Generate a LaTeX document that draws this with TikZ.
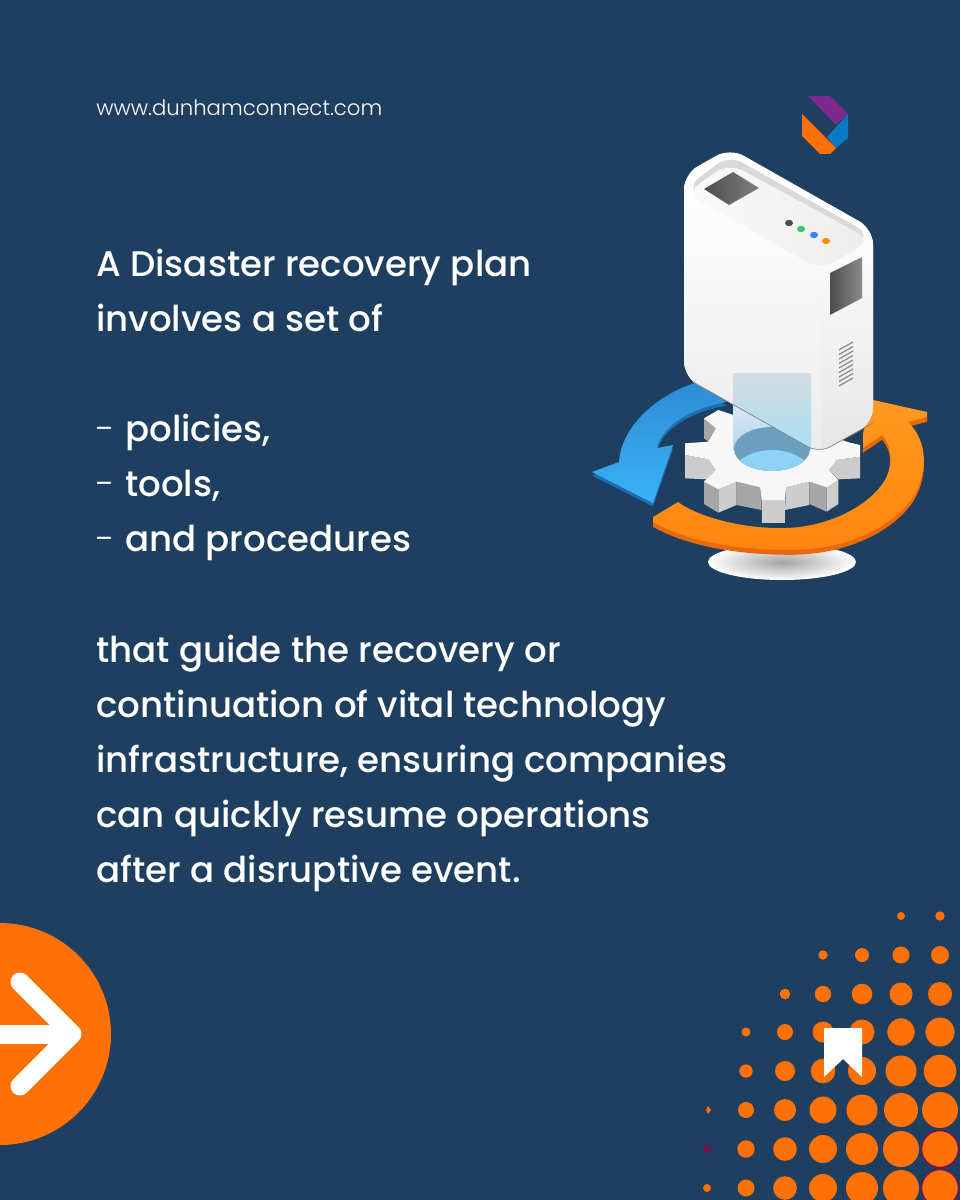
\documentclass[tikz,border=0pt]{standalone}
\usepackage{fontspec}
\setmainfont{Poppins}
\newfontfamily\urlfont{Poppins Light}
\newfontfamily\leadfont{Poppins Medium}
\definecolor{pagebg}{HTML}{1E3F60}
\definecolor{dotorange}{HTML}{FF7005}
\definecolor{dotrim}{HTML}{7A0F4E}
\definecolor{logopurple}{HTML}{7D2A8C}
\definecolor{logoblue}{HTML}{0B79C4}
\definecolor{gearlight}{HTML}{CDCDCD}
\definecolor{geardark}{HTML}{A6A6A6}
\definecolor{bluetop}{HTML}{2C8DD6}
\definecolor{bluelow}{HTML}{3BB2F6}
\definecolor{blueside}{HTML}{1F6FB0}
\definecolor{orangetop}{HTML}{FF9A1E}
\definecolor{orangelow}{HTML}{FF8412}
\definecolor{orangeside}{HTML}{E8690C}
\definecolor{holedark}{HTML}{6A9FBF}
\definecolor{holelight}{HTML}{8FD2F7}
\definecolor{beamtop}{HTML}{D9E8F2}
\definecolor{beamlow}{HTML}{B4D6EC}
\tikzset{
	bodyline/.style={anchor=base west, inner sep=0pt, text=white, font=\leadfont\fontsize{25.3pt}{30pt}\selectfont},
	urlline/.style={anchor=base west, inner sep=0pt, text=white, font=\urlfont\fontsize{15.1pt}{18pt}\selectfont},
}
\newcommand{\dashitem}[1]{\makebox[20.6pt][l]{\urlfont-}#1}
\newcommand{\bluepath}{(727,402) -- (695,383) .. controls (665,392) and (622,421) .. (619,462) -- (592,472) -- (653,503) -- (673,445) -- (657,448) .. controls (662,426) and (690,408) .. (727,402) -- cycle}
\newcommand{\orangepath}{(653,517) -- (678,502) .. controls (700,518) and (745,529) .. (785,528) .. controls (830,527) and (870,505) .. (885,480) .. controls (893,465) and (892,445) .. (882,435) -- (863,448) -- (863,433) -- (873,400) -- (927,412) -- (927,417) -- (908,422) .. controls (927,440) and (930,472) .. (911,500) .. controls (886,532) and (840,550) .. (790,550) .. controls (740,550) and (688,542) .. (653,522) -- cycle}
\newcommand{\serverpath}{(684,377) -- (684,174) -- (730,148) -- (873,229) -- (873,423) -- (819,453) -- cycle}
\begin{document}
\begin{tikzpicture}[x=0.025cm, y=-0.025cm]
	\path[use as bounding box, fill=pagebg] (0,0) rectangle (960,1200);
	% texts
	\node[urlline] (url) at (96,115.5) {www.dunhamconnect.com};
	\node[bodyline] (intro1) at (96,276.5) {A Disaster recovery plan};
	\node[bodyline] (intro2) at (96,331.5) {involves a set of};
	\node[bodyline] (item1) at (96,441.5) {\dashitem{policies,}};
	\node[bodyline] (item2) at (96,496.5) {\dashitem{tools,}};
	\node[bodyline] (item3) at (96,551.5) {\dashitem{and procedures}};
	\node[bodyline] (rest1) at (96,662.5) {that guide the recovery or};
	\node[bodyline] (rest2) at (96,717.5) {continuation of vital technology};
	\node[bodyline] (rest3) at (96,772.5) {infrastructure, ensuring companies};
	\node[bodyline] (rest4) at (96,827.5) {can quickly resume operations};
	\node[bodyline] (rest5) at (96,882.5) {after a disruptive event.};
	% logo
	\fill[logopurple] (808,96) -- (830,96) -- (848,114) -- (836,125) -- cycle;
	\fill[logoblue] (848,114) -- (848,138) -- (836,148) -- (827,137) -- cycle;
	\fill[dotorange] (802,114) -- (836,148) -- (830,154) -- (820,154) -- (802,136) -- cycle;
	% pedestal
	\shade[inner color=black!36, outer color=white] (782,562) ellipse (74 and 18);
	% blue arrow
	\fill[blueside, yshift=-0.09cm] \bluepath;
	\shade[top color=bluetop, bottom color=bluelow] \bluepath;
	% orange arrow
	\fill[orangeside, yshift=-0.12cm] \orangepath;
	\shade[top color=orangetop, bottom color=orangelow] \orangepath;
	% gear, drawn in the units of the crop
	\begin{scope}[shift={(680,400)}, scale=1/3]
		\fill[gearlight] (15,165) -- (85,178) -- (108,210) -- (80,238) -- (15,235) -- cycle;
		\fill[geardark] (72,55) -- (108,85) -- (85,125) -- (72,115) -- cycle;
		\fill[geardark] (72,245) -- (115,268) -- (115,338) -- (72,312) -- cycle;
		\fill[gearlight] (115,268) -- (170,245) -- (170,315) -- (115,338) -- cycle;
		\fill[geardark] (170,245) -- (240,262) -- (245,330) -- (170,315) -- cycle;
		\fill[geardark] (240,262) -- (245,300) -- (245,370) -- (245,330) -- cycle;
		\fill[gearlight] (245,300) -- (315,300) -- (315,370) -- (245,370) -- cycle;
		\fill[gearlight] (318,262) -- (388,245) -- (388,315) -- (315,330) -- cycle;
		\fill[geardark] (388,245) -- (440,262) -- (440,335) -- (388,312) -- cycle;
		\fill[gearlight] (440,262) -- (475,240) -- (475,312) -- (440,335) -- cycle;
		\fill[gearlight] (447,210) -- (470,180) -- (540,170) -- (540,235) -- (475,238) -- cycle;
		\fill[white!97!black] (72,55) -- (115,30) -- (160,45) -- (300,60) -- (510,128) -- (540,135) -- (540,170) -- (470,180) -- (447,210) -- (475,240) -- (440,262) -- (388,245) -- (318,262) -- (315,300) -- (245,300) -- (240,262) -- (170,245) -- (115,268) -- (72,245) -- (108,210) -- (85,178) -- (15,165) -- (15,130) -- (85,125) -- (108,85) -- cycle;
	\end{scope}
	% beam on the gear
	\shade[top color=beamtop, bottom color=beamlow] (733,405) rectangle (811,449);
	% hole
	\begin{scope}
		\clip (772,449) ellipse (38 and 22);
		\fill[holedark] (734,427) rectangle (810,471);
		\fill[holelight] (772,476) ellipse (40 and 26);
	\end{scope}
	% server
	\path[fill=white, rounded corners=11pt] \serverpath;
	\begin{scope}
		\clip[rounded corners=11pt] \serverpath;
		\shade[top color=white, bottom color=black!8] (684,180) -- (684,385) -- (821,460) -- (821,262) -- cycle;
		\shade[top color=black!1, bottom color=black!10] (821,262) -- (821,460) -- (875,430) -- (875,230) -- cycle;
		% beam over the server
		\shade[top color=blue!30!cyan!22!gray!45, bottom color=blue!30!cyan!55!white, fill opacity=.55] (733,374) rectangle (811,450);
	\end{scope}
	\draw[black!50, line width=.5pt, rounded corners=9pt] (693,382) -- (819,453) -- (873,423);
	\fill[black!15, rounded corners=11pt] (686,188) -- (729,155) -- (871,235) -- (822,267) -- cycle;
	\shade[left color=black!2, right color=black!7, rounded corners=11pt] (686,193) -- (729,163) -- (871,240) -- (821,270) -- cycle;
	\shade[left color=black!70, right color=black!50] (733,172) -- (759,188) -- (729,205) -- (704,189) -- cycle;
	\shade[left color=black!70, right color=black!45] (862,257) -- (862,298) -- (830,315) -- (830,273) -- cycle;
	\foreach \ledx/\ledy/\ledc in {789/223/black!70, 801/229/green!50!teal!80!white, 814/235/blue!60!cyan!80!white, 826/241/orange!90!yellow}
		\fill[\ledc] (\ledx,\ledy) ellipse (4 and 3.2);
	\foreach \venty in {346,350.5,...,383}
		\draw[black!45, line width=.9pt] (839,\venty+4) -- (853,\venty-4);
	% dots
	\foreach \dotx/\doty/\dotr in {901/916/4, 940/916/4.7,
		823/955/4.7, 862/955/7, 901/955/8.5, 940/955/9,
		785/994/5.3, 823/994/8.2, 862/994/10.3, 901/994/11.5, 940/994/12,
		746/1032/4.5, 785/1032/8, 823/1032/10.5, 862/1032/12.5, 901/1032/13.7, 940/1032/14.5,
		746/1071/6.7, 785/1071/10, 823/1071/12.3, 862/1071/14, 901/1071/15.5, 940/1071/16.3,
		746/1110/8, 785/1110/11, 823/1110/13.5, 862/1110/15.5, 901/1110/17, 940/1110/18,
		746/1149/8.7, 785/1149/11.8, 823/1149/14, 862/1149/16, 901/1149/18,
		707/1188/4, 746/1188/8.5, 785/1188/11.8, 823/1188/14, 862/1188/16, 901/1188/18}
		\fill[dotorange] (\dotx,\doty) circle (\dotr);
	\fill[dotorange] (708,1106) -- (711,1110) -- (708,1114) -- (706,1110) -- cycle;
	\fill[dotrim] (707,1149) circle (4);
	\foreach \doty in {1149,1188}
		\draw[dotrim, fill=dotorange, line width=1pt] (940,\doty) circle (18.5);
	% bookmark
	\fill[white] (824,1028) -- (862,1028) -- (862,1077) -- (843,1059) -- (824,1077) -- cycle;
	% next arrow
	\fill[dotorange] (0,1034) circle (111);
	\draw[white, line width=13.5pt] (0,1034) -- (70,1034);
	\draw[white, line width=13.5pt, line cap=round, line join=round] (20,982) -- (72,1034) -- (20,1086);
\end{tikzpicture}
\end{document}
